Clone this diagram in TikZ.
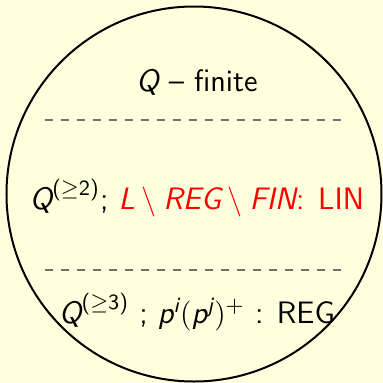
\documentclass[tikz,border=0pt]{standalone}
\usepackage{amsmath}
\usepackage{xcolor}
\usetikzlibrary{positioning}
\definecolor{bgyellow}{RGB}{255,255,222}
\definecolor{sepgray}{RGB}{112,112,112}
\renewcommand{\familydefault}{\sfdefault}
\newcommand{\mitx}[1]{\text{\sffamily\itshape #1}}
\newcommand{\uptx}[1]{\text{\sffamily #1}}

\begin{document}
\begin{tikzpicture}[
  x=0.4pt, y=-0.4pt,
  txt/.style={font=\fontsize{12.4}{14}\selectfont, inner sep=0pt},
  sep/.style={draw=sepgray, dash pattern=on 3.2pt off 3.2pt, line width=0.8pt},
]
\fill[bgyellow] (0,0) rectangle (383,383);
\useasboundingbox (0,0) rectangle (383,383);

% class of languages
\node[circle, draw, line width=0.8pt, minimum size=150pt, inner sep=0pt] (lang) at (194,194) {};

% finite case
\node[txt] (fin) at (197,82) {$\mitx{Q}$ -- finite};
\draw[sep] (45,120) -- (342,120);

% two or more
\node[txt] (two) at (197,198) {$\mitx{Q}^{\uptx{(}\geq\uptx{2)}}$; \textcolor{red}{$\mitx{L}\setminus\mitx{REG}\setminus\mitx{FIN}$: LIN}};
\draw[sep] (45,270) -- (342,270);

% three or more
\node[txt] (three) at (197,312) {$\mitx{Q}^{\uptx{(}\geq\uptx{3)}}$ ; $\mitx{p}^{\mitx{i}}(\mitx{p}^{\mitx{j}})^{+}$ : REG};

\end{tikzpicture}
\end{document}
